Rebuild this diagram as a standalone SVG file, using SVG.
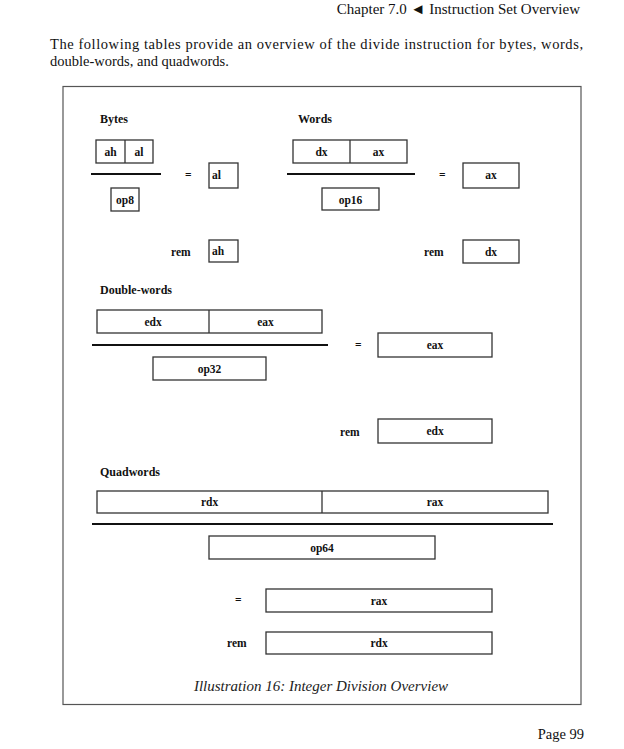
<svg xmlns="http://www.w3.org/2000/svg" width="624" height="749" viewBox="0 0 624 749">
<style>
.pg{font-family:"Liberation Serif",serif;font-size:14.5px;fill:#111}
.hd{font-family:"Liberation Serif",serif;font-size:12px;font-weight:bold;fill:#111}
.lb{font-family:"Liberation Serif",serif;font-size:11.5px;font-weight:bold;fill:#111;text-anchor:middle}
.op{font-family:"Liberation Serif",serif;font-size:11.5px;font-weight:bold;fill:#111}
.bx{fill:#fff;stroke:#333;stroke-width:1.3}
.dv{stroke:#111;stroke-width:2}
.cap{font-family:"Liberation Serif",serif;font-size:15px;font-style:italic;fill:#222;text-anchor:middle}
</style>
<rect width="624" height="749" fill="#fff"/>
<text class="pg" x="580" y="14" text-anchor="end" style="font-size:15px">Chapter 7.0 ◄ Instruction Set Overview</text>
<text class="pg" x="50" y="49" textLength="533" lengthAdjust="spacing">The following tables provide an overview of the divide instruction for bytes, words,</text>
<text class="pg" x="50" y="66">double-words, and quadwords.</text>
<text class="pg" x="584" y="739" text-anchor="end">Page 99</text>
<rect id="frame" x="63" y="86.5" width="518" height="618" fill="none" stroke="#555" stroke-width="1.2"/>

<g id="bytes">
<text class="hd" x="100" y="123">Bytes</text>
<rect class="bx" x="96" y="140" width="57" height="23"/>
<line x1="125" y1="140" x2="125" y2="163" stroke="#333" stroke-width="1.3"/>
<text class="lb" x="110.5" y="156">ah</text>
<text class="lb" x="139" y="156">al</text>
<line class="dv" x1="91" y1="174" x2="161" y2="174"/>
<rect class="bx" x="111" y="188" width="28" height="23"/>
<text class="lb" x="125" y="204">op8</text>
<text class="op" x="185" y="179">=</text>
<rect class="bx" x="209" y="163" width="29" height="25"/>
<text class="op" x="212" y="179">al</text>
<text class="op" x="171" y="256">rem</text>
<rect class="bx" x="209" y="240" width="29" height="22"/>
<text class="op" x="212" y="255">ah</text>
</g>

<g id="words">
<text class="hd" x="298" y="123">Words</text>
<rect class="bx" x="293" y="140" width="114" height="23"/>
<line x1="350" y1="140" x2="350" y2="163" stroke="#333" stroke-width="1.3"/>
<text class="lb" x="321.5" y="156">dx</text>
<text class="lb" x="378.5" y="156">ax</text>
<line class="dv" x1="287" y1="174" x2="415" y2="174"/>
<rect class="bx" x="322" y="188" width="57" height="22"/>
<text class="lb" x="350.5" y="204">op16</text>
<text class="op" x="439" y="179">=</text>
<rect class="bx" x="463" y="163" width="56" height="25"/>
<text class="lb" x="491" y="179">ax</text>
<text class="op" x="424" y="256">rem</text>
<rect class="bx" x="463" y="240" width="56" height="23"/>
<text class="lb" x="491" y="256">dx</text>
</g>

<g id="doublewords">
<text class="hd" x="100" y="294">Double-words</text>
<rect class="bx" x="97" y="310" width="225" height="23"/>
<line x1="209" y1="310" x2="209" y2="333" stroke="#333" stroke-width="1.3"/>
<text class="lb" x="153" y="326">edx</text>
<text class="lb" x="265.5" y="326">eax</text>
<line class="dv" x1="92" y1="345" x2="328" y2="345"/>
<rect class="bx" x="153" y="357" width="113" height="23"/>
<text class="lb" x="209.5" y="373">op32</text>
<text class="op" x="355" y="349">=</text>
<rect class="bx" x="378" y="333" width="114" height="24"/>
<text class="lb" x="435" y="349">eax</text>
<text class="op" x="340" y="436">rem</text>
<rect class="bx" x="378" y="419" width="114" height="24"/>
<text class="lb" x="435" y="435">edx</text>
</g>

<g id="quadwords">
<text class="hd" x="100" y="476">Quadwords</text>
<rect class="bx" x="97" y="491" width="451" height="22"/>
<line x1="322" y1="491" x2="322" y2="513" stroke="#333" stroke-width="1.3"/>
<text class="lb" x="209.5" y="506">rdx</text>
<text class="lb" x="435" y="506">rax</text>
<line class="dv" x1="92" y1="524" x2="553" y2="524"/>
<rect class="bx" x="209" y="536" width="226" height="23"/>
<text class="lb" x="322" y="552">op64</text>
<text class="op" x="235" y="604">=</text>
<rect class="bx" x="266" y="589" width="226" height="23"/>
<text class="lb" x="379" y="605">rax</text>
<text class="op" x="227" y="647">rem</text>
<rect class="bx" x="266" y="632" width="226" height="22"/>
<text class="lb" x="379" y="647">rdx</text>
</g>

<text class="cap" x="321" y="691">Illustration 16: Integer Division Overview</text>
</svg>
